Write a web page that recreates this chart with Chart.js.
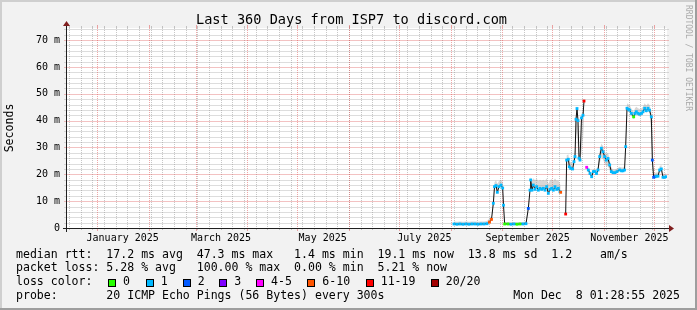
<!DOCTYPE html>
<html>
<head>
<meta charset="utf-8">
<title>Last 360 Days from ISP7 to discord.com</title>
<script src="https://cdn.jsdelivr.net/npm/chart.js@4.4.1/dist/chart.umd.min.js"></script>
<style>
  html, body { margin: 0; padding: 0; background: #f2f2f2; }
  #wrap { position: relative; width: 697px; height: 310px; overflow: hidden; font-family: "DejaVu Sans Mono", monospace; color: #000; }
  #chart { position: absolute; left: 0; top: 0; }
  .txt { position: absolute; white-space: pre; }
  #title { left: 196px; top: 11px; font-size: 13.6px; line-height: 16px; }
  #legend { left: 16px; top: 247.5px; font-size: 11.55px; line-height: 13.7px; }
  #stamp { right: 17px; top: 288.6px; font-size: 11.55px; line-height: 13.7px; }
  #mark { left: 693px; top: 5px; font-size: 8px; line-height: 10px; color: #aaa; transform: rotate(90deg); transform-origin: 0 0; }
  .box { position: absolute; width: 6px; height: 6px; border: 1px solid #000; top: 279px; }
  .lbl { position: absolute; white-space: pre; top: 274.9px; font-size: 11.55px; line-height: 13.7px; }
</style>
</head>
<body>
<div id="wrap">
  <canvas id="chart" width="697" height="310"></canvas>
  <div class="txt" id="title">Last 360 Days from ISP7 to discord.com</div>
  <div class="txt" id="legend">median rtt:  17.2 ms avg  47.3 ms max   1.4 ms min  19.1 ms now  13.8 ms sd  1.2    am/s
packet loss: 5.28 % avg   100.00 % max  0.00 % min  5.21 % now
loss color:
probe:       20 ICMP Echo Pings (56 Bytes) every 300s</div>
  <div class="txt" id="stamp">Mon Dec  8 01:28:55 2025</div>
  <div class="txt" id="mark">RRDTOOL / TOBI OETIKER</div>
</div>
<script>
/* ── Data (x = days since start of the 360 day window) ── */
const days = [
  232.2, 234.0, 235.8, 237.6, 239.4, 241.2, 243.0, 244.8, 246.6, 248.4, 250.2, 252.0, 253.5, 254.7, 255.8, 256.5, 257.4, 258.2, 259.2, 260.4, 261.4, 261.9,
  262.6, 264.6, 266.4, 268.2, 270.0, 271.8, 273.6, 275.4, 276.8, 277.8, 278.2, 279.0, 279.8, 280.8, 281.8, 282.8, 283.8, 284.8, 285.8, 286.8, 287.8, 288.8, 289.8, 290.8, 291.8, 292.8, 293.8, 294.8, 295.8, 296.2, 298.0,
  299.2, 299.8, 300.8, 301.4, 302.2, 303.4, 304.2, 304.8, 305.4, 306.0, 306.6, 307.2, 307.8, 308.7, 309.6, 310.2, 311.0,
  311.8, 312.8, 313.8, 314.8, 315.8, 316.6, 317.7, 318.6, 319.6, 320.6, 321.6, 322.6, 323.6, 324.6, 325.6, 326.6, 327.6, 328.8, 330.0, 331.6,
  332.7, 333.6, 334.5, 335.2, 336.0, 336.9, 337.6, 338.6, 340.0, 340.8, 341.6, 342.6, 343.6, 344.7, 345.6, 346.6, 347.6, 348.6, 349.5, 350.6,
  351.2, 352.0, 352.8, 353.6, 354.6, 355.6, 356.6, 357.6, 358.5, 359.6
];
// median rtt in ms
const median = [
  1.5, 1.4, 1.5, 1.4, 1.5, 1.4, 1.5, 1.5, 1.4, 1.5, 1.5, 1.6, 2.2, 3.2, 9.2, 15.4, 15.8, 13.3, 15.4, 16.0, 14.9, 8.5,
  1.5, 1.5, 1.4, 1.5, 1.4, 1.5, 1.5, 1.6, 7.3, 14.1, 17.9, 14.1, 16.0, 14.4, 15.4, 14.1, 14.8, 14.4, 14.8, 14.1, 15.4, 12.9, 14.4, 14.8, 14.1, 15.4, 14.4, 14.8, 13.5, 13.3, null,
  5.2, 25.3, 25.6, 22.8, 22.2, 22.0, 24.7, 26.6, 40.5, 44.5, 40.0, 26.0, 25.3, 41.0, 42.0, 47.3, null,
  22.6, 21.6, 20.3, 19.1, 21.0, 21.0, 20.3, 21.6, 26.6, 29.7, 28.4, 26.6, 25.3, 25.9, 23.5, 21.0, 20.6, 20.6, 21.0, 21.6,
  21.3, 21.3, 21.6, 30.3, 44.6, 44.2, 43.9, 42.7, 41.4, 42.7, 43.3, 42.7, 42.4, 42.7, 43.3, 44.6, 43.7, 44.6, 43.9, 41.4,
  25.3, 18.9, 19.1, 19.3, 19.3, 21.6, 22.0, 18.9, 18.9, 19.1
];
// lost pings (of 20) per point
const loss = [
  1, 1, 1, 1, 1, 1, 1, 1, 1, 1, 1, 1, 10, 10, 1, 1, 1, 1, 1, 1, 1, 1,
  0, 0, 1, 1, 0, 0, 1, 1, 2, 1, 1, 1, 1, 1, 1, 1, 1, 1, 1, 1, 1, 1, 1, 1, 1, 1, 1, 1, 1, 10, null,
  19, 1, 1, 1, 1, 1, 1, 1, 1, 1, 1, 1, 1, 1, 1, 19, null,
  5, 1, 1, 1, 1, 1, 1, 1, 1, 1, 1, 1, 1, 1, 1, 1, 1, 1, 1, 1,
  1, 1, 1, 1, 1, 1, 1, 1, 0, 1, 1, 1, 1, 1, 1, 1, 1, 1, 1, 1,
  2, 2, 2, 1, 1, 1, 1, 1, 1, 1
];
// smoke band (spread of the pings)
const smokeHi = [
  2.4, 2.3, 2.4, 2.3, 2.4, 2.3, 2.4, 2.4, 2.3, 2.4, 2.4, 2.6, 3.5, 4.5, 11.0, 17.0, 17.8, 16.5, 17.5, 18.0, 17.0, 10.0,
  2.2, 2.2, 2.1, 2.2, 2.1, 2.2, 2.2, 2.4, 8.5, 16.0, 19.0, 17.5, 18.5, 17.8, 18.3, 17.5, 18.0, 17.6, 18.0, 17.5, 18.5, 16.5, 17.8, 18.2, 17.5, 18.4, 17.6, 17.8, 16.5, 15.5, null,
  5.8, 27.0, 27.5, 25.0, 24.5, 24.0, 27.0, 29.0, 42.0, 45.5, 42.0, 28.0, 27.0, 42.0, 43.0, 47.8, null,
  23.5, 22.5, 21.3, 20.2, 22.0, 22.0, 21.5, 23.0, 28.5, 31.5, 30.5, 28.5, 27.5, 28.0, 25.5, 22.5, 21.8, 21.8, 22.2, 22.8,
  22.5, 22.5, 23.0, 33.0, 46.5, 46.0, 45.8, 44.5, 43.2, 44.6, 45.2, 44.6, 44.3, 44.6, 45.2, 46.5, 45.6, 46.5, 45.8, 43.5,
  33.0, 20.3, 20.5, 20.7, 20.7, 23.0, 23.5, 20.2, 20.2, 20.4
];
const smokeLo = [
  1.3, 1.3, 1.3, 1.3, 1.3, 1.3, 1.3, 1.3, 1.3, 1.3, 1.3, 1.4, 2.0, 2.8, 8.5, 14.5, 15.0, 13.0, 15.0, 15.5, 14.5, 8.0,
  1.3, 1.3, 1.3, 1.3, 1.3, 1.3, 1.3, 1.4, 7.0, 13.8, 17.0, 13.8, 15.7, 14.1, 15.1, 13.8, 14.5, 14.1, 14.5, 13.8, 15.1, 12.6, 14.1, 14.5, 13.8, 15.1, 14.1, 14.5, 13.2, 13.0, null,
  5.0, 25.0, 25.2, 22.4, 21.8, 21.6, 24.3, 26.2, 33.0, 36.0, 30.0, 25.6, 25.0, 28.0, 33.0, 40.0, null,
  22.2, 21.2, 19.9, 18.7, 20.6, 20.6, 19.9, 21.2, 24.0, 26.5, 25.5, 24.0, 23.0, 23.0, 21.5, 20.6, 20.2, 20.2, 20.6, 21.2,
  20.9, 20.9, 21.2, 28.0, 43.5, 43.2, 43.0, 41.8, 40.5, 41.8, 42.4, 41.8, 41.5, 41.8, 42.4, 43.7, 42.8, 43.7, 43.0, 36.0,
  24.0, 18.5, 18.7, 18.9, 18.9, 21.2, 21.6, 18.5, 18.5, 18.7
];

/* ── Axis ticks ── */
const monthStarts = [18.4, 49.4, 77.4, 108.4, 138.4, 169.4, 199.4, 230.4, 261.4, 291.4, 322.4, 352.4];
const monthLabelDays = [33.4, 92.4, 153.4, 214.4, 276.4, 337.4];
const monthLabels = ["January 2025", "March 2025", "May 2025", "July 2025", "September 2025", "November 2025"];
const firstSunday = 1.4;
const yMajorTicks = [0, 10, 20, 30, 40, 50, 60, 70];
const yMax = 74.5;

/* ── Loss legend ── */
const lossBuckets = [0, 1, 2, 3, 5, 10, 19, 20];
const lossNames = ["0", "1", "2", "3", "4-5", "6-10", "11-19", "20/20"];
const lossColors = { 0: "#26ff00", 1: "#00b8ff", 2: "#0059ff", 3: "#7e00ff", 5: "#ff00ff", 10: "#ff5500", 19: "#ff0000", 20: "#a10000" };
const legendBoxX = [108, 145.7, 182.7, 219.3, 256, 307.3, 365.7, 430.7];

const wrap = document.getElementById("wrap");
lossBuckets.forEach((b, i) => {
  const box = document.createElement("div");
  box.className = "box";
  box.style.left = legendBoxX[i] + "px";
  box.style.background = lossColors[b];
  wrap.appendChild(box);
  const lbl = document.createElement("div");
  lbl.className = "lbl";
  lbl.style.left = (legendBoxX[i] + 15) + "px";
  lbl.textContent = lossNames[i];
  wrap.appendChild(lbl);
});

const weekDays = [];
for (let d = firstSunday; d < 360; d += 7) weekDays.push(d);
const yMinorTicks = [];
for (let v = 2; v < yMax; v += 2) if (v % 10) yMinorTicks.push(v);

const minorGrid = "rgba(143,143,143,0.5)";
const majorGrid = "rgba(222,79,79,0.5)";
const minorRow = "rgba(143,143,143,0.3)";
const majorRow = "rgba(222,79,79,0.35)";

const pts = (arr) => days.map((d, i) => ({ x: d, y: arr[i] }));

/* ── Frame, canvas, grid and axes like rrdtool ── */
const rrdFrame = {
  id: "rrdFrame",
  beforeDraw(chart) {
    const { ctx, width, height, chartArea: a } = chart;
    ctx.save();
    ctx.fillStyle = "#f2f2f2";
    ctx.fillRect(0, 0, width, height);
    ctx.fillStyle = "#cfcfcf";
    ctx.fillRect(0, 0, width, 2);
    ctx.fillRect(0, 0, 2, height);
    ctx.fillStyle = "#9e9e9e";
    ctx.fillRect(0, height - 2, width, 2);
    ctx.fillRect(width - 2, 0, 2, height);
    ctx.fillStyle = "#ffffff";
    ctx.fillRect(a.left, a.top, a.right - a.left, a.bottom - a.top);
    ctx.restore();
  },
  beforeDatasetsDraw(chart) {
    const { ctx, chartArea: a } = chart;
    const x = chart.scales.x, y = chart.scales.y;
    const L = Math.round(a.left), R = Math.round(a.right), T = Math.round(a.top), B = Math.round(a.bottom);
    ctx.save();
    const vline = (d, color, tick) => {
      const col = Math.floor(x.getPixelForValue(d));
      ctx.fillStyle = color;
      for (let r = T; r < B; r += 2) ctx.fillRect(col, r, 1, 1);
      ctx.fillRect(col, B, 1, tick);
      ctx.fillRect(col, T - tick, 1, tick);
    };
    const hline = (v, color) => {
      const row = Math.round(y.getPixelForValue(v));
      ctx.fillStyle = color;
      ctx.fillRect(L, row, R - L, 1);
      ctx.fillRect(L - 3, row, 2, 1);
      ctx.fillRect(R, row, 2, 1);
    };
    weekDays.forEach((d) => vline(d, minorGrid, 2));
    yMinorTicks.forEach((v) => hline(v, minorRow));
    monthStarts.forEach((d) => vline(d, majorGrid, 3));
    yMajorTicks.forEach((v) => hline(v, majorRow));
    ctx.restore();
  },
  afterDraw(chart) {
    const { ctx, chartArea: a } = chart;
    ctx.save();
    ctx.strokeStyle = "#1f1f1f";
    ctx.lineWidth = 1;
    ctx.beginPath();
    ctx.moveTo(a.left - 4, a.bottom + 0.5);
    ctx.lineTo(a.right + 4, a.bottom + 0.5);
    ctx.moveTo(a.left - 0.5, a.bottom + 4);
    ctx.lineTo(a.left - 0.5, a.top - 4);
    ctx.stroke();
    ctx.fillStyle = "#801f1f";
    ctx.beginPath();
    ctx.moveTo(a.right + 2, a.bottom - 3);
    ctx.lineTo(a.right + 2, a.bottom + 4);
    ctx.lineTo(a.right + 7, a.bottom + 0.5);
    ctx.fill();
    ctx.beginPath();
    ctx.moveTo(a.left - 4, a.top - 2);
    ctx.lineTo(a.left + 3, a.top - 2);
    ctx.lineTo(a.left - 0.5, a.top - 7);
    ctx.fill();
    ctx.restore();
  }
};

Chart.defaults.font.family = "DejaVu Sans Mono";
Chart.defaults.color = "#000";

new Chart(document.getElementById("chart"), {
  type: "line",
  data: {
    datasets: [
      {
        label: "median",
        data: pts(median),
        borderColor: "#111",
        borderWidth: 1,
        pointStyle: "rect",
        pointRadius: 2,
        pointBorderWidth: 0,
        pointBackgroundColor: loss.map((l) => (l === null ? "transparent" : lossColors[l])),
        spanGaps: false,
        tension: 0,
        fill: false,
      },
      {
        label: "smoke low",
        data: pts(smokeLo),
        borderWidth: 0,
        pointRadius: 0,
        fill: false,
        tension: 0,
      },
      {
        label: "smoke high",
        data: pts(smokeHi),
        borderWidth: 0,
        pointRadius: 0,
        backgroundColor: "rgba(150,150,150,0.38)",
        fill: "-1",
        tension: 0,
      },
    ],
  },
  options: {
    responsive: false,
    animation: false,
    devicePixelRatio: 1,
    layout: { padding: { left: 0, right: 30, top: 28, bottom: 0 } },
    plugins: { legend: { display: false }, tooltip: { enabled: false } },
    scales: {
      x: {
        type: "linear", min: 0, max: 360, position: "bottom",
        afterFit: (s) => { s.height = 82; },
        afterBuildTicks: (s) => { s.ticks = monthLabelDays.map((v) => ({ value: v })); },
        grid: { display: false, drawTicks: false },
        border: { display: false },
        ticks: {
          autoSkip: false, maxRotation: 0, minRotation: 0, padding: 4,
          font: { size: 10 },
          callback: (v, i) => monthLabels[i],
        },
      },
      y: {
        type: "linear", min: 0, max: yMax, position: "left",
        afterFit: (s) => { s.width = 67; },
        afterBuildTicks: (s) => { s.ticks = yMajorTicks.map((v) => ({ value: v })); },
        grid: { display: false, drawTicks: false },
        border: { display: false },
        ticks: {
          padding: 7,
          font: { size: 10 },
          callback: (v) => (v === 0 ? "0" : v + " m"),
        },
        title: { display: true, text: "Seconds", font: { size: 11.55 }, padding: { top: 3, bottom: 0 } },
      },
    },
  },
  plugins: [rrdFrame],
});
</script>
</body>
</html>
